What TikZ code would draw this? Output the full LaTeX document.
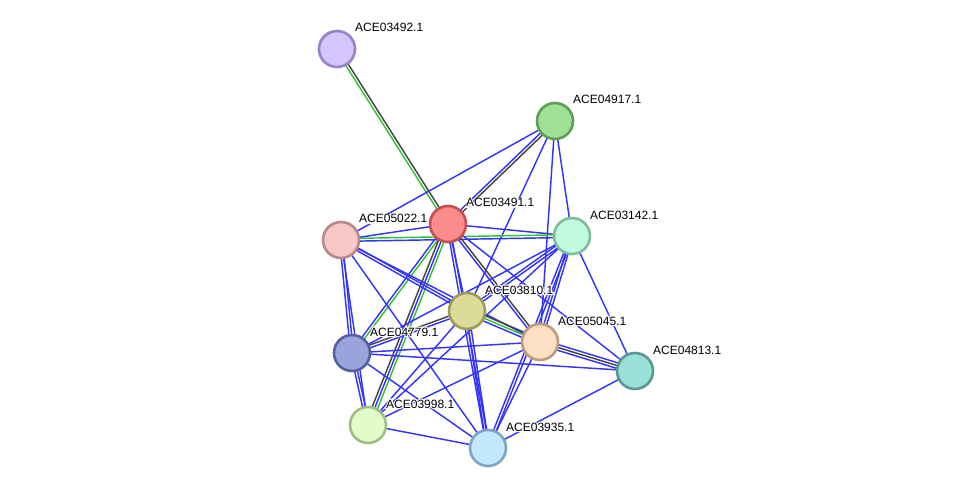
\documentclass[tikz,border=0pt]{standalone}
\usepackage{fontspec}
\setmainfont{Liberation Sans}
\usetikzlibrary{calc,backgrounds}

\definecolor{evblue}{HTML}{3333FF}
\definecolor{evgreen}{HTML}{33C233}
\definecolor{evgray}{HTML}{444444}

% one line per evidence colour, side by side
\newcommand{\evlink}[3]{%
  \foreach \c [count=\n] in {#3} {\xdef\evnum{\n}}%
  \foreach \c [count=\i] in {#3} {%
    \pgfmathsetmacro\off{(\i-(\evnum+1)/2)*2.8}%
    \draw[evline,\c] ($(#1)!\off pt!90:(#2)$) -- ($(#2)!\off pt!-90:(#1)$);}}
% label text with a white halo
\newcommand{\halotext}[1]{%
  \rlap{\special{pdf:literal direct 2 Tr 2.2 w 1 1 1 RG 1 1 1 rg}#1\special{pdf:literal direct 0 Tr 0 0 0 rg 0 0 0 RG}}#1}

\begin{document}
\begin{tikzpicture}[x={(1pt,0)},y={(0,-1pt)}]
  \tikzset{prot/.style={draw,circle,minimum size=36pt,inner sep=0pt,line width=2.6pt},
           lbl/.style={anchor=base west,inner sep=0pt,font=\fontsize{12}{14}\selectfont},
           evline/.style={line width=1.45pt}}
  \useasboundingbox (0,0) rectangle (976,494);
  \node[prot,fill={rgb,255:red,213;green,197;blue,253},draw={rgb,255:red,154;green,128;blue,200}] (a) at (337,49) {};
  \node[prot,fill={rgb,255:red,160;green,224;blue,150},draw={rgb,255:red,94;green,158;blue,88}] (b) at (555,121) {};
  \node[prot,fill={rgb,255:red,251;green,138;blue,138},draw={rgb,255:red,196;green,80;blue,80}] (c) at (448,224) {};
  \node[prot,fill={rgb,255:red,248;green,200;blue,200},draw={rgb,255:red,184;green,136;blue,136}] (d) at (341,240) {};
  \node[prot,fill={rgb,255:red,194;green,252;blue,224},draw={rgb,255:red,124;green,188;blue,152}] (e) at (572,236) {};
  \node[prot,fill={rgb,255:red,220;green,220;blue,152},draw={rgb,255:red,156;green,156;blue,88}] (f) at (467,311) {};
  \node[prot,fill={rgb,255:red,253;green,223;blue,195},draw={rgb,255:red,188;green,156;blue,124}] (g) at (540,342) {};
  \node[prot,fill={rgb,255:red,153;green,164;blue,221},draw={rgb,255:red,85;green,96;blue,160}] (h) at (352,353) {};
  \node[prot,fill={rgb,255:red,153;green,224;blue,217},draw={rgb,255:red,90;green,152;blue,145}] (i) at (635,371) {};
  \node[prot,fill={rgb,255:red,226;green,252;blue,199},draw={rgb,255:red,160;green,188;blue,132}] (j) at (368,425) {};
  \node[prot,fill={rgb,255:red,195;green,232;blue,253},draw={rgb,255:red,124;green,166;blue,196}] (k) at (488,448) {};
  \node[lbl] (a-t) at ([shift={(18,-17)}]a.center) {\halotext{ACE03492.1}};
  \node[lbl] (b-t) at ([shift={(18,-17)}]b.center) {\halotext{ACE04917.1}};
  \node[lbl] (c-t) at ([shift={(18,-17)}]c.center) {\halotext{ACE03491.1}};
  \node[lbl] (d-t) at ([shift={(18,-17)}]d.center) {\halotext{ACE05022.1}};
  \node[lbl] (e-t) at ([shift={(18,-17)}]e.center) {\halotext{ACE03142.1}};
  \node[lbl] (f-t) at ([shift={(18,-17)}]f.center) {\halotext{ACE03810.1}};
  \node[lbl] (g-t) at ([shift={(18,-17)}]g.center) {\halotext{ACE05045.1}};
  \node[lbl] (h-t) at ([shift={(18,-17)}]h.center) {\halotext{ACE04779.1}};
  \node[lbl] (i-t) at ([shift={(18,-17)}]i.center) {\halotext{ACE04813.1}};
  \node[lbl] (j-t) at ([shift={(18,-17)}]j.center) {\halotext{ACE03998.1}};
  \node[lbl] (k-t) at ([shift={(18,-17)}]k.center) {\halotext{ACE03935.1}};
  \begin{pgfonlayer}{background}
    \evlink{a}{c}{evgreen,evgray}
    \evlink{b}{d}{evblue}
    \evlink{b}{c}{evblue,evgray}
    \evlink{b}{f}{evblue}
    \evlink{b}{g}{evblue}
    \evlink{b}{e}{evblue}
    \evlink{c}{d}{evblue}
    \evlink{c}{e}{evblue}
    \evlink{d}{e}{evblue,evgreen}
    \evlink{c}{h}{evblue,evgreen}
    \evlink{c}{j}{evgray,evblue,evgreen}
    \evlink{c}{f}{evblue}
    \evlink{c}{k}{evblue,evblue}
    \evlink{c}{g}{evblue,evgray}
    \evlink{c}{i}{evblue}
    \evlink{d}{f}{evblue,evblue}
    \evlink{d}{g}{evblue}
    \evlink{d}{k}{evblue}
    \evlink{d}{h}{evblue,evblue}
    \evlink{d}{j}{evblue}
    \evlink{e}{f}{evblue,evblue}
    \evlink{e}{g}{evblue,evblue}
    \evlink{e}{k}{evblue,evblue}
    \evlink{e}{h}{evblue}
    \evlink{e}{j}{evblue}
    \evlink{e}{i}{evblue}
    \evlink{f}{g}{evblue,evgreen,evgray}
    \evlink{f}{h}{evgray,evblue}
    \evlink{f}{j}{evblue}
    \evlink{f}{k}{evblue,evblue}
    \evlink{g}{h}{evblue}
    \evlink{g}{i}{evblue,evgray,evblue}
    \evlink{g}{j}{evblue}
    \evlink{g}{k}{evblue}
    \evlink{h}{i}{evblue}
    \evlink{h}{k}{evblue}
    \evlink{h}{j}{evblue,evblue}
    \evlink{j}{k}{evblue}
    \evlink{i}{k}{evblue}
  \end{pgfonlayer}
\end{tikzpicture}
\end{document}
